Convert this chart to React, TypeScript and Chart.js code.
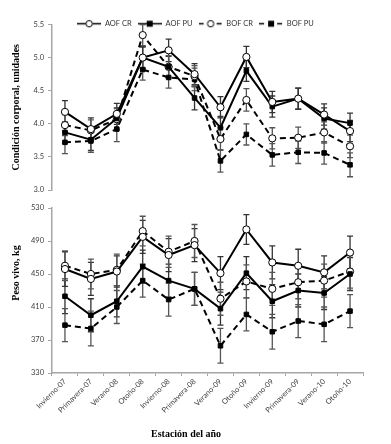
import React, { useEffect, useRef } from 'react';
import { Chart, registerables } from 'chart.js';

Chart.register(...registerables);

const categories = ['Invierno-07', 'Primavera-07', 'Verano-08', 'Otoño-08', 'Invierno-08', 'Primavera-08', 'Verano-09', 'Otoño-09', 'Invierno-09', 'Primavera-09', 'Verano-10', 'Otoño-10'];

const seriesNames = ['AOF CR', 'AOF PU', 'BOF CR', 'BOF PU'];

// Condición corporal
const ccAofCR = [4.18, 3.92, 4.15, 5.0, 5.11, 4.75, 4.25, 5.01, 4.33, 4.38, 4.14, 3.89];
const ccAofPU = [3.87, 3.76, 4.08, 5.0, 4.86, 4.39, 3.94, 4.8, 4.26, 4.38, 4.08, 4.01];
const ccBofCR = [3.98, 3.9, 4.07, 5.34, 4.86, 4.72, 3.77, 4.36, 3.78, 3.79, 3.87, 3.66];
const ccBofPU = [3.72, 3.74, 3.92, 4.82, 4.7, 4.67, 3.44, 3.84, 3.53, 3.57, 3.56, 3.38];
const ccErrAofCR = [0.17, 0.17, 0.16, 0.17, 0.17, 0.16, 0.16, 0.16, 0.16, 0.16, 0.16, 0.16];
const ccErrAofPU = [0.16, 0.16, 0.16, 0.16, 0.16, 0.18, 0.17, 0.16, 0.16, 0.16, 0.16, 0.15];
const ccErrBofCR = [0.16, 0.16, 0.16, 0.16, 0.17, 0.16, 0.17, 0.17, 0.16, 0.16, 0.16, 0.17];
const ccErrBofPU = [0.17, 0.17, 0.19, 0.16, 0.16, 0.17, 0.17, 0.16, 0.17, 0.17, 0.17, 0.18];
const ccTicks = [3.0, 3.5, 4.0, 4.5, 5.0, 5.5];

// Peso vivo
const pvAofCR = [456, 444, 453, 495, 473, 485, 451, 504, 464, 460, 452, 476];
const pvAofPU = [423, 400, 417, 459, 442, 432, 408, 451, 417, 430, 427, 450];
const pvBofCR = [460, 450, 455, 502, 477, 490, 420, 441, 432, 440, 442, 453];
const pvBofPU = [388, 384, 410, 442, 419, 432, 363, 401, 380, 393, 389, 405];
const pvErrAofCR = [21, 20, 19, 20, 20, 20, 20, 18, 20, 20, 20, 20];
const pvErrAofPU = [21, 20, 19, 20, 20, 20, 20, 20, 20, 20, 20, 20];
const pvErrBofCR = [18, 18, 19, 18, 19, 20, 20, 20, 20, 20, 20, 20];
const pvErrBofPU = [20, 21, 20, 20, 20, 20, 21, 20, 21, 20, 21, 20];
const pvTicks = [330, 370, 410, 450, 490, 530];

const FONT = 'Lato, "Liberation Sans", sans-serif';
const SERIF = '"Liberation Serif", "DejaVu Serif", serif';
const AXIS_GRAY = '#a6a6a6';
const TICK_COLOR = '#404040';
const NBSP = '\u00a0';

const errorBarsPlugin = {
  id: 'errorBars',
  beforeDatasetsDraw(chart: any) {
    const ctx = chart.ctx;
    const yScale = chart.scales.y;
    ctx.save();
    chart.data.datasets.forEach((ds: any, i: number) => {
      const meta = chart.getDatasetMeta(i);
      if (!ds.errors) return;
      ctx.strokeStyle = ds.errorColor || '#404040';
      ctx.lineWidth = 1.3;
      ctx.setLineDash([]);
      meta.data.forEach((pt: any, j: number) => {
        const v = ds.data[j];
        const e = ds.errors[j];
        const yt = yScale.getPixelForValue(v + e);
        const yb = yScale.getPixelForValue(v - e);
        const x = pt.x;
        ctx.beginPath();
        ctx.moveTo(x, yt);
        ctx.lineTo(x, yb);
        ctx.moveTo(x - 3, yt);
        ctx.lineTo(x + 3, yt);
        ctx.moveTo(x - 3, yb);
        ctx.lineTo(x + 3, yb);
        ctx.stroke();
      });
    });
    ctx.restore();
  },
};

// Place the (top) legend so that it overlaps the top edge of the plot, as in the reference
const legendShiftPlugin = {
  id: 'legendShift',
  afterLayout(chart: any) {
    const l = chart.legend;
    if (!l || !l.options.display) return;
    const h = l.height;
    l.left = 0;
    l.right = 391;
    l.top = 14;
    l.bottom = l.top + h;
  },
};

function makeIcon(dashed: boolean, filled: boolean) {
  const c = document.createElement('canvas');
  c.width = 24;
  c.height = 9;
  const g = c.getContext('2d')!;
  g.strokeStyle = '#000';
  g.lineWidth = 1.5;
  g.setLineDash(dashed ? [5, 4] : []);
  g.beginPath();
  g.moveTo(0, 4.5);
  g.lineTo(24, 4.5);
  g.stroke();
  g.setLineDash([]);
  if (filled) {
    g.fillStyle = '#000';
    g.fillRect(9, 1.5, 6, 6);
  } else {
    g.fillStyle = '#fff';
    g.lineWidth = 1;
    g.beginPath();
    g.arc(12, 4.5, 3.2, 0, Math.PI * 2);
    g.fill();
    g.stroke();
  }
  return c;
}

function makeDatasets(values: number[][], errors: number[][]) {
  return values.map((vals, i) => {
    const filled = i % 2 === 1;
    const dashed = i >= 2;
    return {
      label: seriesNames[i],
      data: vals,
      errors: errors[i],
      errorColor: dashed ? '#555' : '#333',
      borderColor: '#000',
      borderWidth: 2,
      borderDash: dashed ? [6, 4] : [],
      pointStyle: filled ? 'rect' : 'circle',
      pointRadius: filled ? 3.2 : 3.6,
      pointBorderWidth: 1,
      pointBorderColor: '#000',
      pointBackgroundColor: filled ? '#000' : '#fff',
      fill: false,
      tension: 0,
    };
  });
}

function yScaleOpts(min: number, max: number, ticks: number[], title: string, decimals: number) {
  return {
    type: 'linear',
    min,
    max,
    afterBuildTicks(scale: any) {
      scale.ticks = ticks.map((v) => ({ value: v }));
    },
    afterFit(scale: any) {
      scale.width = 43;
    },
    ticks: {
      font: { family: FONT, size: 7.5 },
      color: TICK_COLOR,
      padding: 4,
      callback: (v: any) => Number(v).toFixed(decimals),
    },
    grid: { drawOnChartArea: false, drawTicks: true, tickLength: 4, color: AXIS_GRAY },
    border: { color: AXIS_GRAY, width: 1.5 },
    title: {
      display: true,
      text: title,
      font: { family: SERIF, size: 10, weight: 'bold' },
      color: '#000',
      padding: { top: 1, bottom: 0 },
    },
  };
}

export default function App() {
  const topRef = useRef<HTMLCanvasElement>(null);
  const botRef = useRef<HTMLCanvasElement>(null);

  useEffect(() => {
    const icons = [makeIcon(false, false), makeIcon(false, true), makeIcon(true, false), makeIcon(true, true)];

    const top = new Chart(topRef.current!, {
      type: 'line',
      data: {
        labels: categories,
        datasets: makeDatasets([ccAofCR, ccAofPU, ccBofCR, ccBofPU], [ccErrAofCR, ccErrAofPU, ccErrBofCR, ccErrBofPU]) as any,
      },
      options: {
        animation: false,
        responsive: false,
        layout: { padding: { left: 9, right: 28, top: 1, bottom: 254 } },
        scales: {
          x: { type: 'category', offset: true, display: false },
          y: yScaleOpts(3, 5.5, ccTicks, 'Condición corporal, unidades', 1) as any,
        },
        plugins: {
          legend: {
            display: true,
            position: 'top',
            labels: {
              usePointStyle: true,
              pointStyleWidth: 24,
              boxHeight: 8,
              padding: 6,
              font: { family: FONT, size: 7.5 },
              color: '#333',
              generateLabels: (chart: any) =>
                chart.data.datasets.map((ds: any, i: number) => ({
                  text: ds.label,
                  pointStyle: icons[i],
                  fillStyle: 'transparent',
                  strokeStyle: 'transparent',
                  lineWidth: 0,
                  hidden: false,
                  datasetIndex: i,
                  fontColor: '#333',
                })),
            },
          },
          tooltip: { enabled: false },
        },
      },
      plugins: [errorBarsPlugin, legendShiftPlugin],
    });

    const bot = new Chart(botRef.current!, {
      type: 'line',
      data: {
        labels: categories,
        datasets: makeDatasets([pvAofCR, pvAofPU, pvBofCR, pvBofPU], [pvErrAofCR, pvErrAofPU, pvErrBofCR, pvErrBofPU]) as any,
      },
      options: {
        animation: false,
        responsive: false,
        layout: { padding: { left: 9, right: 28, top: 208, bottom: 0 } },
        scales: {
          x: {
            type: 'category',
            offset: true,
            afterFit(scale: any) {
              scale.height = 55;
            },
            ticks: {
              font: { family: FONT, size: 7.5 },
              color: TICK_COLOR,
              maxRotation: 45,
              minRotation: 45,
              autoSkip: false,
              padding: 1,
            },
            grid: { offset: true, drawOnChartArea: false, drawTicks: true, tickLength: 3, color: AXIS_GRAY },
            border: { color: AXIS_GRAY, width: 1.5 },
          },
          y: yScaleOpts(330, 530, pvTicks, NBSP.repeat(14) + 'Peso vivo, kg', 0) as any,
        },
        plugins: {
          legend: { display: false },
          tooltip: { enabled: false },
          title: {
            display: true,
            position: 'bottom',
            text: 'Estación del año',
            font: { family: SERIF, size: 10, weight: 'bold' },
            color: '#000',
            padding: { top: 0, bottom: 4 },
          },
        },
      },
      plugins: [errorBarsPlugin],
    });

    return () => {
      top.destroy();
      bot.destroy();
    };
  }, []);

  const cs: React.CSSProperties = { position: 'absolute', left: 0, top: 0, display: 'block' };
  return (
    <div style={{ position: 'absolute', left: 0, top: 0, width: 391, height: 444, background: '#fff' }}>
      <canvas ref={topRef} width={391} height={444} style={cs} />
      <canvas ref={botRef} width={391} height={444} style={cs} />
    </div>
  );
}
